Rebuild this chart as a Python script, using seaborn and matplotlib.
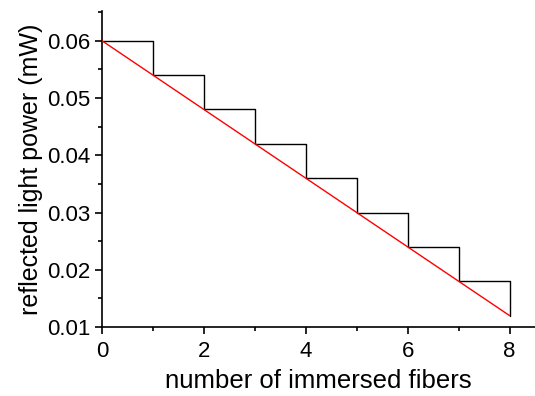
import matplotlib
matplotlib.use("Agg")
import matplotlib.pyplot as plt
from matplotlib.ticker import MultipleLocator
import numpy as np
import pandas as pd
import seaborn as sns

# number of immersed fibers and reflected power (mW)
fibers = [0, 1, 2, 3, 4, 5, 6, 7, 8]
power = [0.060, 0.054, 0.048, 0.042, 0.036, 0.030, 0.024, 0.018, 0.012]

data = pd.DataFrame({"fibers": fibers, "power": power})

sns.set_style("ticks")
plt.rcParams['font.family'] = ['Liberation Sans', 'DejaVu Sans']
plt.rcParams['text.color'] = 'black'
plt.rcParams['axes.labelcolor'] = 'black'

fig = plt.figure(figsize=(5.35, 3.96), dpi=100)
ax = fig.add_axes([0.1907, 0.1742, 0.8093, 0.798])

# staircase of measured values
sns.lineplot(data=data, x="fibers", y="power", color="black", lw=1,
             drawstyle="steps-post", ax=ax, zorder=2)
# linear trend
sns.lineplot(data=data, x="fibers", y="power", color="red", lw=1, ax=ax, zorder=3)

ax.set_xlim(0, 8.5)
ax.set_ylim(0.01, 0.0652)
ax.xaxis.set_major_locator(MultipleLocator(2))
ax.xaxis.set_minor_locator(MultipleLocator(1))
ax.yaxis.set_minor_locator(MultipleLocator(0.005))
ax.set_yticks([0.01, 0.02, 0.03, 0.04, 0.05, 0.06])
ax.set_yticklabels(["0.01", "0.02", "0.03", "0.04", "0.05", "0.06"])

for s in ["top", "right"]:
    ax.spines[s].set_visible(False)
for s in ["left", "bottom"]:
    ax.spines[s].set_linewidth(1.2)
    ax.spines[s].set_color("black")

ax.tick_params(which="major", direction="out", length=5, width=1.2,
               labelsize=16, colors="black")
ax.tick_params(axis="x", which="major", pad=5)
ax.tick_params(which="minor", direction="out", length=3, width=1.2, colors="black")

ax.set_xlabel("number of immersed fibers", fontsize=18.5, labelpad=5, color="black")
ax.set_ylabel("reflected light power (mW)", fontsize=18, labelpad=3, color="black")

plt.savefig("out.png", dpi=100)
